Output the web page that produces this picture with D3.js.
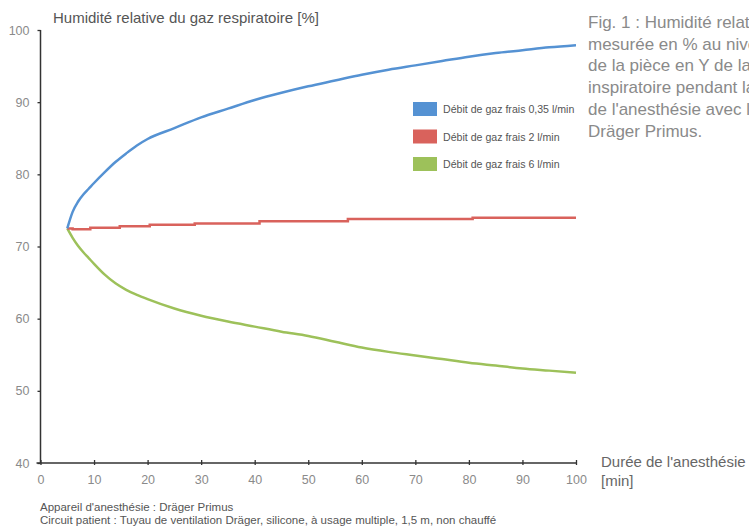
<!DOCTYPE html>
<html>
<head>
<meta charset="utf-8">
<script src="https://cdn.jsdelivr.net/npm/d3@7"></script>
<style>
  html, body { margin: 0; padding: 0; background: #fff; overflow: hidden; }
  svg { display: block; font-family: "Liberation Sans", Arial, Helvetica, sans-serif; }
</style>
</head>
<body>
<svg id="chart" width="749" height="530"></svg>
<script>
// ---- data ----
const minutes = [5,6,7,8,9,10,12,14,16,18,20,25,30,35,40,45,50,55,60,65,70,75,80,85,90,95,100];
const flow035 = [72.5,74.8,76.2,77.2,78.0,78.8,80.3,81.7,82.9,84.0,84.9,86.4,87.9,89.1,90.3,91.3,92.2,93.0,93.8,94.5,95.1,95.7,96.3,96.8,97.2,97.6,97.9];
const flow6   = [72.5,71.2,70.1,69.2,68.4,67.6,66.1,64.9,64.0,63.3,62.7,61.4,60.4,59.6,58.9,58.2,57.6,56.8,56.0,55.4,54.9,54.4,53.9,53.5,53.1,52.8,52.5];
const flow2Minutes = [5,6,9.3,14.8,20.4,28.8,40.9,57.4,80.7,100];
const flow2   = [72.5,72.4,72.6,72.8,73.0,73.2,73.5,73.8,74.0,74.0];

const seriesNames = ["Débit de gaz frais 0,35 l/min","Débit de gaz frais 2 l/min","Débit de gaz frais 6 l/min"];
const seriesColors = ["#5592d3","#d9625c","#9dc15a"];

const xTicks = [0,10,20,30,40,50,60,70,80,90,100];
const yTicks = [40,50,60,70,80,90,100];

const yTitle = "Humidité relative du gaz respiratoire [%]";
const xTitle = ["Durée de l'anesthésie","[min]"];
const captionLines = ["Fig. 1 : Humidité relative","mesurée en % au niveau","de la pièce en Y de la branche","inspiratoire pendant la durée","de l'anesthésie avec le","Dräger Primus."];
const footnotes = ["Appareil d'anesthésie : Dräger Primus","Circuit patient : Tuyau de ventilation Dräger, silicone, à usage multiple, 1,5 m, non chauffé"];

// ---- chart ----
const svg = d3.select("#chart");
const x = d3.scaleLinear().domain([0,100]).range([40.5,576]);
const y = d3.scaleLinear().domain([40,100]).range([463,30]);

// axes
const xAxis = svg.append("g").attr("transform",`translate(0,${y(40)})`)
  .call(d3.axisBottom(x).tickValues(xTicks).tickSize(3).tickSizeOuter(0).tickPadding(9));
xAxis.select(".domain").attr("stroke","#333").attr("stroke-width",1.5).attr("d",`M${x(0)-4},0H${x(100)}`);
xAxis.selectAll(".tick line").attr("stroke","#333").attr("stroke-width",1.3).attr("y1",-3).attr("y2",2);
xAxis.selectAll(".tick text").attr("fill","#8a8a8a").attr("font-size",12.5).style("font-family","inherit");

const yAxis = svg.append("g").attr("transform",`translate(${x(0)},0)`)
  .call(d3.axisLeft(y).tickValues(yTicks).tickSize(3).tickSizeOuter(0).tickPadding(8));
yAxis.select(".domain").attr("stroke","#333").attr("stroke-width",1.5).attr("d",`M0,${y(40)}V${y(100)}`);
yAxis.selectAll(".tick line").attr("stroke","#333").attr("stroke-width",1.3);
yAxis.selectAll(".tick text").attr("fill","#8a8a8a").attr("font-size",12.5).style("font-family","inherit");

// lines
const line = d3.line().x(d => x(d[0])).y(d => y(d[1])).curve(d3.curveMonotoneX);
const stepLine = d3.line().x(d => x(d[0])).y(d => y(d[1])).curve(d3.curveStepAfter);

svg.append("path").datum(minutes.map((m,i)=>[m,flow6[i]]))
  .attr("d",line).attr("fill","none").attr("stroke",seriesColors[2]).attr("stroke-width",2.5);
svg.append("path").datum(flow2Minutes.map((m,i)=>[m,flow2[i]]))
  .attr("d",stepLine).attr("fill","none").attr("stroke",seriesColors[1]).attr("stroke-width",2.5);
svg.append("path").datum(minutes.map((m,i)=>[m,flow035[i]]))
  .attr("d",line).attr("fill","none").attr("stroke",seriesColors[0]).attr("stroke-width",2.5);

// legend
const legend = svg.append("g").attr("transform","translate(413,102)");
seriesNames.forEach((name,i) => {
  const g = legend.append("g").attr("transform",`translate(0,${i*27.5})`);
  g.append("rect").attr("width",24).attr("height",14).attr("fill",seriesColors[i]);
  g.append("text").attr("x",30).attr("y",11).attr("font-size",10.6).attr("fill","#555").text(name);
});

// titles
svg.append("text").attr("x",53).attr("y",23).attr("font-size",15).attr("fill","#555").text(yTitle);
xTitle.forEach((t,i) => {
  svg.append("text").attr("x",601).attr("y",467 + i*19).attr("font-size",15).attr("fill","#666").text(t);
});
captionLines.forEach((t,i) => {
  svg.append("text").attr("x",588).attr("y",28 + i*21.7).attr("font-size",17).attr("fill","#8a8a8a").text(t);
});
footnotes.forEach((t,i) => {
  svg.append("text").attr("x",40).attr("y",511 + i*13).attr("font-size",11.5).attr("fill","#555").text(t);
});
</script>
</body>
</html>
